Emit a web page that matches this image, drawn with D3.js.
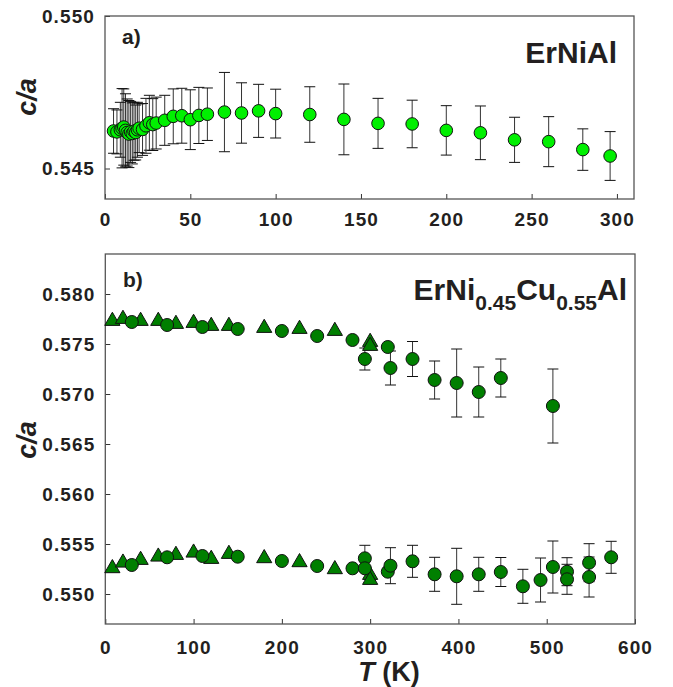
<!DOCTYPE html>
<html>
<head>
<meta charset="utf-8">
<script src="https://cdn.jsdelivr.net/npm/d3@7"></script>
<style>
  body { margin: 0; background: #fff; }
  svg text { font-family: "Liberation Sans", Arial, sans-serif; font-weight: bold; fill: #231f20; }
</style>
</head>
<body>
<svg id="chart" width="673" height="687"></svg>
<script>
// ---- panel a) ErNiAl ----
var a_T   = [5, 7, 9, 10, 11, 12, 13, 14, 15, 16, 17, 18, 19, 20, 22, 24, 26, 28, 30, 35, 40, 45, 50, 55, 60,
             70, 80, 90, 100, 120, 140, 160, 180, 200, 220, 240, 260, 280, 296]
var a_ca  = [0.54623, 0.54620, 0.54627, 0.54632, 0.54636, 0.54625, 0.54618, 0.54613, 0.54620, 0.54615, 0.54622,
             0.54618, 0.54627, 0.54632, 0.54628, 0.54640, 0.54650, 0.54644, 0.54649, 0.54658, 0.54671, 0.54673,
             0.54660, 0.54674, 0.54678, 0.54685, 0.54682, 0.54689, 0.54680, 0.54677, 0.54661, 0.54648, 0.54646,
             0.54625, 0.54617, 0.54594, 0.54588, 0.54562, 0.54541]
var a_err = [0.00073, 0.00072, 0.00090, 0.00130, 0.00125, 0.00120, 0.00110, 0.00110, 0.00100, 0.00100, 0.00095,
             0.00090, 0.00090, 0.00080, 0.00085, 0.00090, 0.00090, 0.00085, 0.00085, 0.00082, 0.00090, 0.00090,
             0.00098, 0.00092, 0.00086, 0.00130, 0.00099, 0.00087, 0.00080, 0.00091, 0.00116, 0.00082, 0.00078,
             0.00081, 0.00088, 0.00074, 0.00082, 0.00068, 0.00080]

// ---- panel b) ErNi0.45Cu0.55Al : circles ----
var b_circ_T   = [30, 70, 110, 150, 200, 240, 280, 294, 320, 323, 348, 373, 398, 423, 448, 507,
                  30, 70, 110, 150, 200, 240, 280, 294, 294, 320, 323, 348, 373, 398, 423, 448, 473, 493, 507,
                  523, 523, 548, 548, 573]
var b_circ_ca  = [0.5772, 0.5769, 0.5767, 0.5765, 0.5763, 0.5758, 0.5754, 0.5735, 0.5747, 0.5726, 0.5735, 0.5714,
                  0.5711, 0.5702, 0.5716, 0.5688,
                  0.5529, 0.55367, 0.5538, 0.55373, 0.5533, 0.5528, 0.55257, 0.55357, 0.55257, 0.55223, 0.55283,
                  0.55327, 0.55197, 0.55177, 0.55197, 0.5522, 0.55077, 0.5514, 0.5527, 0.55223, 0.55147, 0.55313,
                  0.5517, 0.55367]
var b_circ_err = [0, 0, 0, 0, 0, 0, 0, 0.0011, 0, 0.0017, 0.00175, 0.0019, 0.0034, 0.0025, 0.0019, 0.0037,
                  0, 0, 0, 0, 0, 0, 0, 0.0013, 0, 0, 0.0018, 0.0016, 0.0017, 0.0028, 0.0017, 0.00145, 0.0017,
                  0.0022, 0.0026, 0.0014, 0.0015, 0.0019, 0.002, 0.0016]

// ---- panel b) triangles ----
var b_tri_T  = [8, 20, 40, 60, 80, 100, 120, 140, 180, 220, 260, 300, 300,
                8, 20, 40, 60, 80, 100, 120, 140, 180, 220, 260, 300, 300]
var b_tri_ca = [0.5773, 0.5775, 0.5773, 0.5773, 0.5770, 0.5771, 0.5768, 0.5768, 0.5766, 0.5765, 0.5763, 0.5752, 0.5748,
                0.55257, 0.55313, 0.5534, 0.55373, 0.5539, 0.55413, 0.5535, 0.5540, 0.55357, 0.55317, 0.55247, 0.5519, 0.5514]

var a_xticks = [0, 50, 100, 150, 200, 250, 300]
var a_yticks = [0.545, 0.550]
var b_xticks = [0, 100, 200, 300, 400, 500, 600]
var b_yticks = [0.550, 0.555, 0.560, 0.565, 0.570, 0.575, 0.580]

var svg = d3.select("#chart")

// draws a frame, inward ticks and labels for one panel
function drawFrame(x, y, xticks, yticks, xpad) {
    var g = svg.append("g")
    g.append("g")
        .attr("transform", "translate(0," + y.range()[0] + ")")
        .call(d3.axisBottom(x).tickValues(xticks).tickSize(-5).tickPadding(xpad).tickFormat(d3.format("d")))
        .call(s => s.select(".domain").remove())
    g.append("g")
        .attr("transform", "translate(" + x.range()[0] + ",0)")
        .call(d3.axisLeft(y).tickValues(yticks).tickSize(-5).tickPadding(10).tickFormat(d3.format(".3f")))
        .call(s => s.select(".domain").remove())
    g.selectAll(".tick line").attr("stroke", "#333")
    g.selectAll(".tick text")
        .style("font-size", "19px")
        .style("font-family", "Liberation Sans, Arial, sans-serif")
        .style("font-weight", "bold")
        .style("letter-spacing", "1.1px")
        .attr("fill", "#231f20")
    g.append("rect")
        .attr("x", x.range()[0])
        .attr("y", y.range()[1])
        .attr("width", x.range()[1] - x.range()[0])
        .attr("height", y.range()[0] - y.range()[1])
        .attr("fill", "none")
        .attr("stroke", "#555")
        .attr("stroke-width", 1.3)
}

function drawErrors(x, y, T, v, e) {
    var pts = T.map((t, i) => ({t: t, v: v[i], e: e[i]})).filter(d => d.e > 0)
    var g = svg.append("g").attr("stroke", "#111").attr("stroke-width", 1)
    g.selectAll("line.bar").data(pts).join("line")
        .attr("x1", d => x(d.t)).attr("x2", d => x(d.t))
        .attr("y1", d => y(d.v - d.e)).attr("y2", d => y(d.v + d.e))
        .attr("stroke", "#333")
    g.selectAll("line.top").data(pts).join("line")
        .attr("x1", d => x(d.t) - 5.5).attr("x2", d => x(d.t) + 5.5)
        .attr("y1", d => y(d.v + d.e)).attr("y2", d => y(d.v + d.e))
    g.selectAll("line.bot").data(pts).join("line")
        .attr("x1", d => x(d.t) - 5.5).attr("x2", d => x(d.t) + 5.5)
        .attr("y1", d => y(d.v - d.e)).attr("y2", d => y(d.v - d.e))
}

// ---- panel a ----
var xa = d3.scaleLinear().domain([0, 310]).range([105, 634])
var ya = d3.scaleLinear().domain([0.544, 0.550]).range([199, 16])
drawFrame(xa, ya, a_xticks, a_yticks, 14)
drawErrors(xa, ya, a_T, a_ca, a_err)
svg.append("g").selectAll("circle").data(a_T).join("circle")
    .attr("cx", d => xa(d))
    .attr("cy", (d, i) => ya(a_ca[i]))
    .attr("r", 6.3)
    .attr("fill", "#00f000")
    .attr("stroke", "#111")
    .attr("stroke-width", 1)

svg.append("text").attr("x", 122).attr("y", 44).style("font-size", "21px").text("a)")
svg.append("text").attr("x", 617).attr("y", 63).attr("text-anchor", "end").style("font-size", "30px").text("ErNiAl")

// ---- panel b ----
var xb = d3.scaleLinear().domain([0, 600]).range([105.3, 635])
var yb = d3.scaleLinear().domain([0.547, 0.584]).range([624, 254])
drawFrame(xb, yb, b_xticks, b_yticks, 17)
drawErrors(xb, yb, b_circ_T, b_circ_ca, b_circ_err)

svg.append("g").selectAll("path").data(b_tri_T).join("path")
    .attr("d", d3.symbol().type(d3.symbolTriangle).size(100))
    .attr("transform", (d, i) => "translate(" + xb(d) + "," + yb(b_tri_ca[i]) + ")")
    .attr("fill", "#007f00")
    .attr("stroke", "#111")
    .attr("stroke-width", 1)

svg.append("g").selectAll("circle").data(b_circ_T).join("circle")
    .attr("cx", d => xb(d))
    .attr("cy", (d, i) => yb(b_circ_ca[i]))
    .attr("r", 6.5)
    .attr("fill", "#007f00")
    .attr("stroke", "#111")
    .attr("stroke-width", 1)

svg.append("text").attr("x", 123).attr("y", 287).style("font-size", "21px").text("b)")
var title = svg.append("text").attr("x", 627).attr("y", 300).attr("text-anchor", "end").style("font-size", "30px")
title.append("tspan").text("ErNi")
title.append("tspan").attr("dy", 10).style("font-size", "21px").text("0.45")
title.append("tspan").attr("dy", -10).text("Cu")
title.append("tspan").attr("dy", 10).style("font-size", "21px").text("0.55")
title.append("tspan").attr("dy", -10).text("Al")

// ---- axis titles ----
svg.append("text")
    .attr("transform", "translate(36,97) rotate(-90)")
    .attr("text-anchor", "middle")
    .style("font-size", "27px").style("font-style", "italic")
    .text("c/a")
svg.append("text")
    .attr("transform", "translate(36,440) rotate(-90)")
    .attr("text-anchor", "middle")
    .style("font-size", "27px").style("font-style", "italic")
    .text("c/a")
var xt = svg.append("text").attr("x", 389).attr("y", 681).attr("text-anchor", "middle").style("font-size", "27px")
xt.append("tspan").style("font-style", "italic").text("T")
xt.append("tspan").text(" (K)")
</script>
</body>
</html>
